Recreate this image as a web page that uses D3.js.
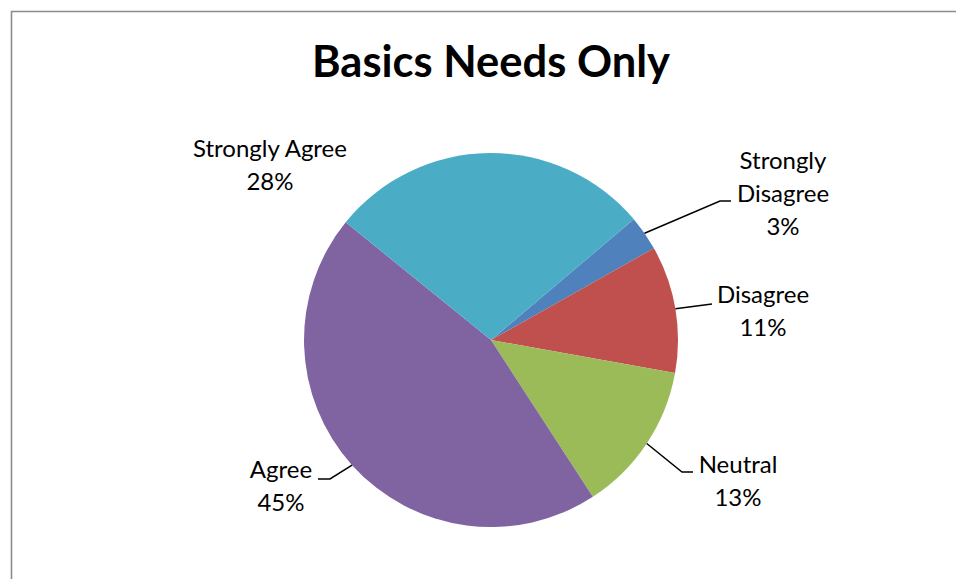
<!DOCTYPE html>
<html>
<head>
<meta charset="utf-8">
<script src="https://cdn.jsdelivr.net/npm/d3@7"></script>
<style>
  html, body { margin: 0; padding: 0; background: #fff; }
  svg { display: block; }
  text { font-family: Lato, "Open Sans", sans-serif; fill: #000; }
</style>
</head>
<body>
<svg id="chart" width="956" height="579"></svg>
<script>
// Survey responses for "Basics Needs Only"
const categories = ["Strongly Disagree", "Disagree", "Neutral", "Agree", "Strongly Agree"];
const labelLines = [["Strongly", "Disagree"], ["Disagree"], ["Neutral"], ["Agree"], ["Strongly Agree"]];
const percentages = [3, 11, 13, 45, 28];
const colors = ["#4F81BD", "#C0504D", "#9BBB59", "#8064A2", "#4BACC6"];
const title = "Basics Needs Only";

const svg = d3.select("#chart");
const W = 956, H = 579;
const cx = 491, cy = 340, R = 187;
const startDeg = 49.8;

// chart-area frame (runs off the right and bottom edges)
svg.append("path")
  .attr("d", `M11.5,${H + 2} L11.5,11.5 L${W + 2},11.5`)
  .attr("fill", "none")
  .attr("stroke", "#8c8c8c")
  .attr("stroke-width", 1.6);

svg.append("text")
  .attr("x", 491).attr("y", 77)
  .attr("text-anchor", "middle")
  .style("font-size", "43.5px")
  .style("font-weight", "bold")
  .text(title);

const rad = d => d * Math.PI / 180;
const pie = d3.pie().sort(null)
  .startAngle(rad(startDeg))
  .endAngle(rad(startDeg + 360));
const arcs = pie(percentages);
const arc = d3.arc().innerRadius(0).outerRadius(R);

const g = svg.append("g").attr("transform", `translate(${cx},${cy})`);
g.selectAll("path.slice")
  .data(arcs)
  .join("path")
  .attr("class", "slice")
  .attr("d", arc)
  .attr("fill", (d, i) => colors[i]);

// label placement: leader elbow/end and text anchor (centre x, first baseline)
const layout = [
  { elbow: [720, 201], end: [731, 201], tx: 783, ty: 169 },
  { elbow: null,       end: [712, 304], tx: 763, ty: 303 },
  { elbow: [682, 472], end: [693, 472], tx: 738, ty: 473 },
  { elbow: [330, 479], end: [318, 479], tx: 281, ty: 478 },
  { elbow: null,       end: null,       tx: 270, ty: 157 }
];
const lineGap = 33;

arcs.forEach((a, i) => {
  const L = layout[i];
  if (L.end) {
    const mid = (a.startAngle + a.endAngle) / 2;
    const sx = cx + R * Math.sin(mid), sy = cy - R * Math.cos(mid);
    const pts = [[sx, sy]];
    if (L.elbow) pts.push(L.elbow);
    pts.push(L.end);
    svg.append("path")
      .attr("d", d3.line()(pts))
      .attr("fill", "none")
      .attr("stroke", "#000")
      .attr("stroke-width", 1.5);
  }
  const lines = labelLines[i].concat([percentages[i] + "%"]);
  const t = svg.append("text")
    .attr("text-anchor", "middle")
    .style("font-size", "24px");
  lines.forEach((s, k) => {
    t.append("tspan")
      .attr("x", L.tx)
      .attr("y", L.ty + k * lineGap)
      .text(s);
  });
});
</script>
</body>
</html>
